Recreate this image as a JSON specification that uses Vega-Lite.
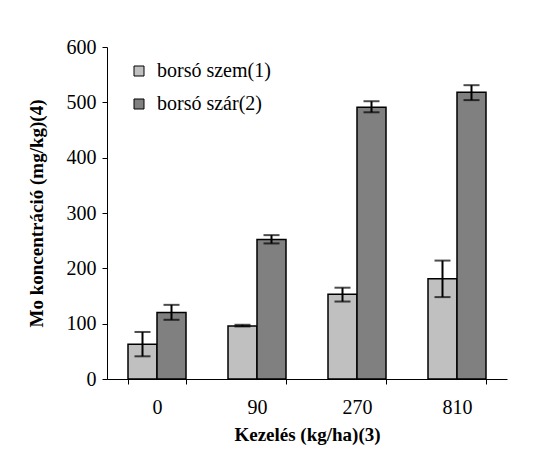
{
  "$schema": "https://vega.github.io/schema/vega-lite/v6.json",
  "width": 400,
  "height": 332,
  "autosize": {"type": "none"},
  "padding": {"left": 107, "top": 47, "right": 52, "bottom": 84},
  "background": "white",
  "config": {
    "view": {"stroke": null},
    "font": "Times New Roman, Liberation Serif, serif",
    "legend": {"labelFont": "Times New Roman, Liberation Serif, serif"},
    "axis": {"grid": false, "domainColor": "black", "tickColor": "black", "labelColor": "black", "titleColor": "black", "labelFont": "Times New Roman, Liberation Serif, serif", "titleFont": "Times New Roman, Liberation Serif, serif", "labelFontSize": 20, "titleFontSize": 19, "titleFontWeight": "bold", "tickSize": 5, "domainWidth": 1, "tickWidth": 1}
  },
  "data": {
    "values": [
      {"kezeles": "0", "tipus": "borsó szem(1)", "ertek": 63, "lo": 41, "hi": 85},
      {"kezeles": "0", "tipus": "borsó szár(2)", "ertek": 120, "lo": 107, "hi": 134},
      {"kezeles": "90", "tipus": "borsó szem(1)", "ertek": 96, "lo": 95, "hi": 98},
      {"kezeles": "90", "tipus": "borsó szár(2)", "ertek": 252, "lo": 245, "hi": 260},
      {"kezeles": "270", "tipus": "borsó szem(1)", "ertek": 153, "lo": 140, "hi": 165},
      {"kezeles": "270", "tipus": "borsó szár(2)", "ertek": 491, "lo": 482, "hi": 502},
      {"kezeles": "810", "tipus": "borsó szem(1)", "ertek": 181, "lo": 148, "hi": 214},
      {"kezeles": "810", "tipus": "borsó szár(2)", "ertek": 518, "lo": 504, "hi": 531}
    ]
  },
  "encoding": {
    "x": {
      "field": "kezeles", "type": "nominal", "sort": ["0", "90", "270", "810"],
      "scale": {"paddingInner": 0.42, "paddingOuter": 0.21},
      "axis": {"title": "Kezelés (kg/ha)(3)", "labelAngle": 0, "labelPadding": 13, "titlePadding": 8, "tickBand": "extent"}
    },
    "xOffset": {"field": "tipus", "type": "nominal", "sort": ["borsó szem(1)", "borsó szár(2)"], "scale": {"paddingInner": 0, "paddingOuter": 0}}
  },
  "layer": [
    {
      "mark": {"type": "bar", "stroke": "black", "strokeWidth": 1.5},
      "encoding": {
        "y": {"field": "ertek", "type": "quantitative", "scale": {"domain": [0, 600], "nice": false},
          "axis": {"title": "Mo koncentráció (mg/kg)(4)", "values": [0, 100, 200, 300, 400, 500, 600], "labelPadding": 6, "titlePadding": 20}},
        "fill": {"field": "tipus", "type": "nominal", "sort": ["borsó szem(1)", "borsó szár(2)"],
          "scale": {"range": ["#C0C0C0", "#808080"]},
          "legend": {"title": null, "orient": "none", "legendX": 22, "legendY": 14, "symbolType": "square", "symbolSize": 100, "symbolStrokeColor": "black", "symbolStrokeWidth": 1, "labelFontSize": 20, "labelFont": "Times New Roman, Liberation Serif, serif", "labelColor": "black", "rowPadding": 13, "labelOffset": 8, "padding": 0}}
      }
    },
    {
      "mark": {"type": "rule", "color": "black", "strokeWidth": 2},
      "encoding": {"y": {"field": "lo", "type": "quantitative"}, "y2": {"field": "hi"}}
    },
    {
      "mark": {"type": "tick", "color": "black", "thickness": 2, "size": 16},
      "encoding": {"y": {"field": "lo", "type": "quantitative"}}
    },
    {
      "mark": {"type": "tick", "color": "black", "thickness": 2, "size": 16},
      "encoding": {"y": {"field": "hi", "type": "quantitative"}}
    }
  ]
}
